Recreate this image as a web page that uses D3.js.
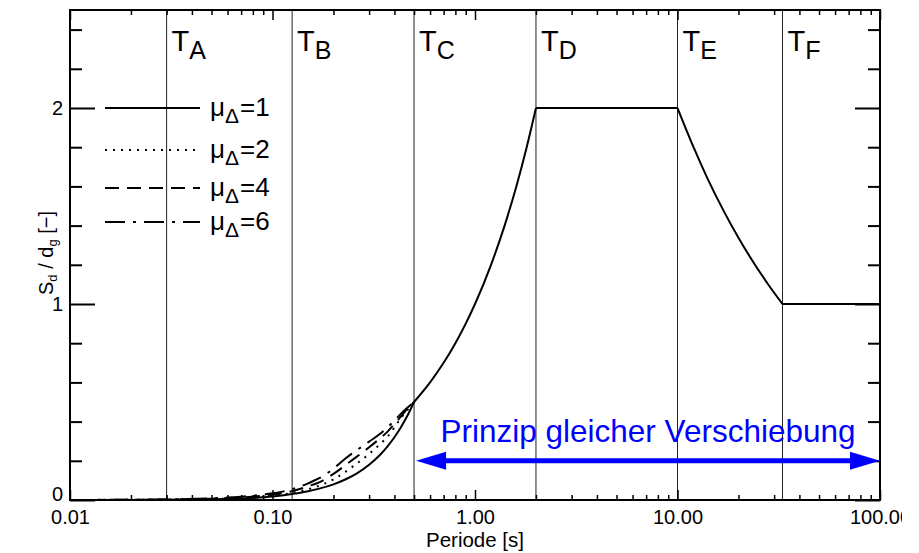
<!DOCTYPE html>
<html>
<head>
<meta charset="utf-8">
<script src="https://cdn.jsdelivr.net/npm/d3@7"></script>
<style>
  body { margin: 0; background: #fff; }
  svg text { font-family: "Liberation Sans", Arial, Helvetica, sans-serif; fill: #000; }
</style>
</head>
<body>
<div id="chart"></div>
<script>
// Sd/dg spectrum

// periods below T_C, where the ductility curves differ
let tShort = [0.01, 0.02, 0.03, 0.05, 0.07, 0.1, 0.125, 0.15, 0.17, 0.2, 0.23, 0.26, 0.3, 0.34, 0.37, 0.4, 0.43, 0.46, 0.5];
let sdMu1 = [0.0001, 0.0004, 0.001, 0.0032, 0.0072, 0.0176, 0.031, 0.045, 0.058, 0.08, 0.106, 0.135, 0.18, 0.231, 0.274, 0.32, 0.37, 0.423, 0.5];
let sdMu2 = [0.0002, 0.0008, 0.0018, 0.005, 0.01, 0.022, 0.036, 0.055, 0.073, 0.105, 0.145, 0.185, 0.235, 0.285, 0.323, 0.37, 0.417, 0.455, 0.5];
let sdMu4 = [0.0003, 0.0012, 0.0025, 0.007, 0.013, 0.028, 0.045, 0.07, 0.09, 0.133, 0.179, 0.22, 0.269, 0.315, 0.349, 0.388, 0.425, 0.463, 0.5];
let sdMu6 = [0.0004, 0.0015, 0.003, 0.009, 0.017, 0.034, 0.055, 0.085, 0.111, 0.16, 0.213, 0.253, 0.298, 0.338, 0.371, 0.405, 0.439, 0.468, 0.5];

// common part above T_C (same for every ductility)
let tRise = [0.5, 0.6, 0.7, 0.8, 0.9, 1.0, 1.2, 1.4, 1.6, 1.8, 2.0];
let sdRise = [0.5, 0.6, 0.7, 0.8, 0.9, 1.0, 1.2, 1.4, 1.6, 1.8, 2.0];
let tPlateau = [2, 10];
let sdPlateau = [2, 2];
let tFall = [10, 12, 14, 17, 20, 24, 28, 33];
let sdFall = [2.0, 1.80, 1.645, 1.47, 1.338, 1.204, 1.101, 1.0];
let tTail = [33, 100];
let sdTail = [1, 1];

let muLabels = ["1", "2", "4", "6"];
let periodLimits = [0.03, 0.125, 0.5, 2, 10, 33];
let limitLabels = ["A", "B", "C", "D", "E", "F"];

let xTickValues = [0.01, 0.1, 1, 10, 100];
let xTickLabels = ["0.01", "0.10", "1.00", "10.00", "100.00"];
let yTickValues = [0, 1, 2];
let yTickLabels = ["0", "1", "2"];

let arrowSpan = [0.5, 100];
let arrowLevel = 0.2;
let arrowText = "Prinzip gleicher Verschiebung";

let width = 919, height = 553;
let plot = {left: 70, right: 880, top: 10, bottom: 500};

let svg = d3.select("#chart").append("svg")
  .attr("width", width)
  .attr("height", height);

svg.append("clipPath").attr("id", "crop")
  .append("rect").attr("x", 0).attr("y", 0).attr("width", 902).attr("height", height);

let root = svg.append("g").attr("clip-path", "url(#crop)");

let x = d3.scaleLog().domain([0.01, 100]).range([plot.left, plot.right]);
let y = d3.scaleLinear().domain([0, 2.5]).range([plot.bottom, plot.top]);

// vertical lines at the corner periods
root.append("g").selectAll("line")
  .data(periodLimits)
  .enter().append("line")
  .attr("x1", d => x(d)).attr("x2", d => x(d))
  .attr("y1", plot.top).attr("y2", plot.bottom)
  .attr("stroke", "#222")
  .attr("stroke-width", 1);

let tl = root.append("g").selectAll("text")
  .data(periodLimits)
  .enter().append("text")
  .attr("x", d => x(d) + 5)
  .attr("y", 51)
  .attr("font-size", 29);
tl.append("tspan").text("T");
tl.append("tspan").attr("font-size", 25).attr("dy", 8).text((d, i) => limitLabels[i]);

// curves
let line = d3.line()
  .x(d => x(d[0]))
  .y(d => y(d[1]))
  .curve(d3.curveMonotoneX);

let pts = function(ts, vs) { return ts.map((t, i) => [t, vs[i]]); };

let dashes = [null, "2,6", "14,8", "20,8,3,8"];
let shortSeries = [sdMu1, sdMu2, sdMu4, sdMu6];

let curves = root.append("g").attr("fill", "none").attr("stroke", "#000").attr("stroke-width", 2);

[[tRise, sdRise], [tPlateau, sdPlateau], [tFall, sdFall], [tTail, sdTail]].forEach(b => {
  curves.append("path").attr("d", line(pts(b[0], b[1])));
});

shortSeries.forEach((s, i) => {
  curves.append("path")
    .attr("d", line(pts(tShort, s)))
    .attr("stroke-dasharray", dashes[i]);
});

// legend
let legendY = [108, 150, 188, 222];
let lg = root.append("g");
muLabels.forEach((m, i) => {
  lg.append("line")
    .attr("x1", 105).attr("x2", 200)
    .attr("y1", legendY[i]).attr("y2", legendY[i])
    .attr("stroke", "#000").attr("stroke-width", 2)
    .attr("stroke-dasharray", dashes[i]);
  let t = lg.append("text").attr("x", 210).attr("y", legendY[i] + 8).attr("font-size", 26);
  t.append("tspan").text("\u03bc");
  t.append("tspan").attr("font-size", 21).attr("dy", 7).text("\u0394");
  t.append("tspan").attr("dy", -7).attr("dx", 1).text("=" + m);
});

// axes with inward ticks
let xMinor = [];
xTickValues.slice(0, -1).forEach(d => {
  for (let k = 2; k <= 9; k++) xMinor.push(d * k);
});
let xAll = xTickValues.concat(xMinor);

let yAll = d3.range(0, 13).map(i => +(i * 0.2).toFixed(1));

let xLabel = function(d) {
  let i = xTickValues.indexOf(d);
  return i >= 0 ? xTickLabels[i] : "";
};
let yLabel = function(d) {
  let i = yTickValues.indexOf(d);
  return i >= 0 ? yTickLabels[i] : "";
};

let gx = root.append("g")
  .attr("transform", "translate(0," + plot.bottom + ")")
  .call(d3.axisBottom(x).tickValues(xAll).tickSizeInner(-5).tickSizeOuter(0).tickPadding(10).tickFormat(xLabel));
let gxTop = root.append("g")
  .attr("transform", "translate(0," + plot.top + ")")
  .call(d3.axisTop(x).tickValues(xAll).tickSizeInner(-5).tickSizeOuter(0).tickFormat(""));
let gy = root.append("g")
  .attr("transform", "translate(" + plot.left + ",0)")
  .call(d3.axisLeft(y).tickValues(yAll).tickSizeInner(-12).tickSizeOuter(0).tickPadding(7).tickFormat(yLabel));
let gyRight = root.append("g")
  .attr("transform", "translate(" + plot.right + ",0)")
  .call(d3.axisRight(y).tickValues(yAll).tickSizeInner(-12).tickSizeOuter(0).tickFormat(""));

[gx, gxTop].forEach(g => {
  g.select(".domain").remove();
  g.selectAll(".tick line").attr("stroke-width", 1.5);
  g.selectAll(".tick").filter(d => xTickValues.indexOf(d) >= 0)
    .select("line").attr("y2", g === gx ? -10 : 10);
});
[gy, gyRight].forEach(g => {
  g.select(".domain").remove();
  g.selectAll(".tick line").attr("stroke-width", 2);
  g.selectAll(".tick").filter(d => yTickValues.indexOf(d) >= 0)
    .select("line").attr("x2", g === gy ? 25 : -25);
});
[gx, gxTop, gy, gyRight].forEach(g => g.attr("font-family", null).attr("font-size", 20));
gy.selectAll(".tick").filter(d => d === 0).select("text").attr("dy", "0em");

root.append("rect")
  .attr("x", plot.left).attr("y", plot.top)
  .attr("width", plot.right - plot.left).attr("height", plot.bottom - plot.top)
  .attr("fill", "none").attr("stroke", "#000").attr("stroke-width", 2);

// axis titles
root.append("text")
  .attr("x", (plot.left + plot.right) / 2)
  .attr("y", 547)
  .attr("text-anchor", "middle")
  .attr("font-size", 20.5)
  .text("Periode [s]");

let yt = root.append("text")
  .attr("transform", "translate(53,253) rotate(-90)")
  .attr("text-anchor", "middle")
  .attr("font-size", 20);
yt.append("tspan").text("S");
yt.append("tspan").attr("font-size", 13).attr("dy", 4).text("d");
yt.append("tspan").attr("dy", -4).text(" / d");
yt.append("tspan").attr("font-size", 13).attr("dy", 4).text("g");
yt.append("tspan").attr("dy", -4).text(" [\u2212]");

// equal displacement arrow
let ax0 = x(arrowSpan[0]) + 2, ax1 = x(arrowSpan[1]), ay = y(arrowLevel);
let blue = "#0000ff";
root.append("line")
  .attr("x1", ax0 + 25).attr("x2", ax1 - 25)
  .attr("y1", ay).attr("y2", ay)
  .attr("stroke", blue).attr("stroke-width", 5);
root.append("path")
  .attr("d", "M" + ax0 + "," + ay + "L" + (ax0 + 30) + "," + (ay - 9) + "L" + (ax0 + 30) + "," + (ay + 9) + "Z")
  .attr("fill", blue);
root.append("path")
  .attr("d", "M" + ax1 + "," + ay + "L" + (ax1 - 30) + "," + (ay - 9) + "L" + (ax1 - 30) + "," + (ay + 9) + "Z")
  .attr("fill", blue);
root.append("text")
  .attr("x", (ax0 + ax1) / 2)
  .attr("y", ay - 19)
  .attr("text-anchor", "middle")
  .attr("font-size", 31.5)
  .style("fill", blue)
  .text(arrowText);
</script>
</body>
</html>
